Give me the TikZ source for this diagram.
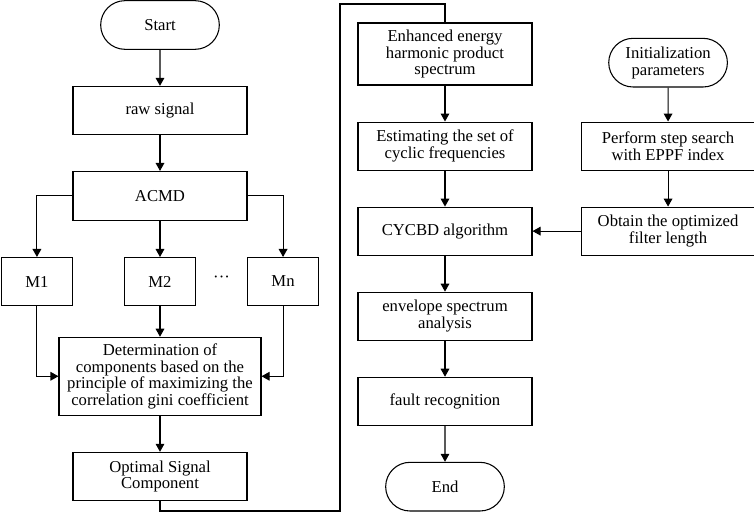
\documentclass[tikz,border=0pt]{standalone}
\usepackage{fontspec}
\setmainfont{Liberation Serif}
\usetikzlibrary{shapes.misc, arrows.meta, positioning}

\begin{document}
\begin{tikzpicture}[x=0.75pt, y=-0.75pt, node distance=27pt,
    font=\fontsize{12.5}{12.5}\selectfont,
    box/.style={rectangle, draw, line width=0.8pt, align=center, minimum width=130.5pt, minimum height=36pt, inner sep=1pt},
    term/.style={rounded rectangle, draw, line width=0.8pt, align=center, minimum width=91pt, minimum height=36.5pt, inner sep=1pt},
    mbox/.style={box, minimum width=53.5pt},
    arrow/.style={-{Triangle[length=6pt, width=6.5pt]}, line width=0.8pt}]

    \useasboundingbox (0,0) rectangle (754,516);

    % Left column: decomposition
    \node[term] (start) at (160,25) {Start};
    \node[box, below=of start] (raw) {raw signal};
    \node[box, below=of raw, minimum height=36.75pt] (acmd) {ACMD};
    \node[mbox, below=of acmd] (m2) {M2};
    \node[mbox, left=38pt of m2] (m1) {M1};
    \node[mbox, right=38pt of m2] (mn) {Mn};
    \path (m2) -- node[yshift=2pt] (dots) {\textperiodcentered\textperiodcentered\textperiodcentered} (mn);
    \node[box, below=23pt of m2, minimum width=151.5pt, minimum height=58.5pt] (det) {Determination of\\components based on the\\principle of maximizing the\\correlation gini coefficient};
    \node[box, below=of det] (opt) {Optimal Signal\\Component};

    % Middle column: CYCBD
    \node[box, minimum height=46.5pt] (enh) at (445,54) {Enhanced energy\\harmonic product\\spectrum};
    \node[box, below=of enh] (est) {Estimating the set of\\cyclic frequencies};
    \node[box, below=of est] (cyc) {CYCBD algorithm};
    \node[box, below=of cyc] (env) {envelope spectrum\\analysis};
    \node[box, below=of env] (fault) {fault recognition};
    \node[term, below=of fault] (end) {End};

    % Right column: filter length
    \node[box, right=36pt of est] (perf) {Perform step search\\with EPPF index};
    \node[term, above=25.5pt of perf] (init) {Initialization\\parameters};
    \node[box, right=36pt of cyc] (obt) {Obtain the optimized\\filter length};

    % Connectors
    \draw[arrow] (start) -- (raw);
    \draw[arrow] (raw) -- (acmd);
    \draw[arrow] (acmd.west) -| (m1.north);
    \draw[arrow] (acmd) -- (m2);
    \draw[arrow] (acmd.east) -| (mn.north);
    \draw[arrow] (m1.south) |- (det.west);
    \draw[arrow] (m2) -- (det);
    \draw[arrow] (mn.south) |- (det.east);
    \draw[arrow] (det) -- (opt);

    \coordinate (loopb) at (340,511);
    \coordinate (loopt) at (340,4);
    \draw[line width=0.8pt] (opt.south) |- (loopb) -- (loopt) -| (enh.north);

    \draw[arrow] (enh) -- (est);
    \draw[arrow] (est) -- (cyc);
    \draw[arrow] (cyc) -- (env);
    \draw[arrow] (env) -- (fault);
    \draw[arrow] (fault) -- (end);
    \draw[arrow] (init) -- (perf);
    \draw[arrow] (perf) -- (obt);
    \draw[arrow] (obt) -- (cyc);

\end{tikzpicture}
\end{document}
